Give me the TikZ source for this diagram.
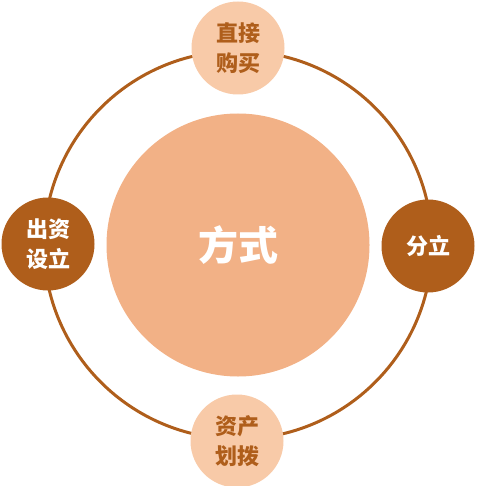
\documentclass[tikz,border=0pt]{standalone}
\usepackage{fontspec}
\newfontfamily\cjk{Noto Sans CJK SC}
\usepackage{tikz}
\usetikzlibrary{positioning}
\definecolor{ringbrown}{HTML}{AF5E1B}
\definecolor{lightpeach}{HTML}{F8CAA8}
\definecolor{centerpeach}{HTML}{F2B186}

\begin{document}
\begin{tikzpicture}[x=1pt,y=-1pt,
light/.style={circle,fill=lightpeach,minimum size=93pt,inner sep=0pt,
text=ringbrown,align=center,font={\cjk\bfseries\fontsize{22}{30}\selectfont}},
dark/.style={circle,fill=ringbrown,minimum size=93pt,inner sep=0pt,
text=white,align=center,font={\cjk\bfseries\fontsize{22}{30}\selectfont}}]
\useasboundingbox (0,0) rectangle (476,486);
\node (ring) at (238,245) [circle,draw=ringbrown,line width=3pt,minimum size=388pt] {};
\node (fs) at (238,245) [circle,fill=centerpeach,minimum size=263pt,text=white,
font={\cjk\bfseries\fontsize{40}{48}\selectfont}] {方式};

\node (zjgm) at (238,48) [light] {直接\\购买};
\node (zchb) at (237,441) [light] {资产\\划拨};
\node (czsl) at (48,244) [dark] {出资\\设立};
\node (fl) at (428,246) [dark] {分立};

\end{tikzpicture}
\end{document}
